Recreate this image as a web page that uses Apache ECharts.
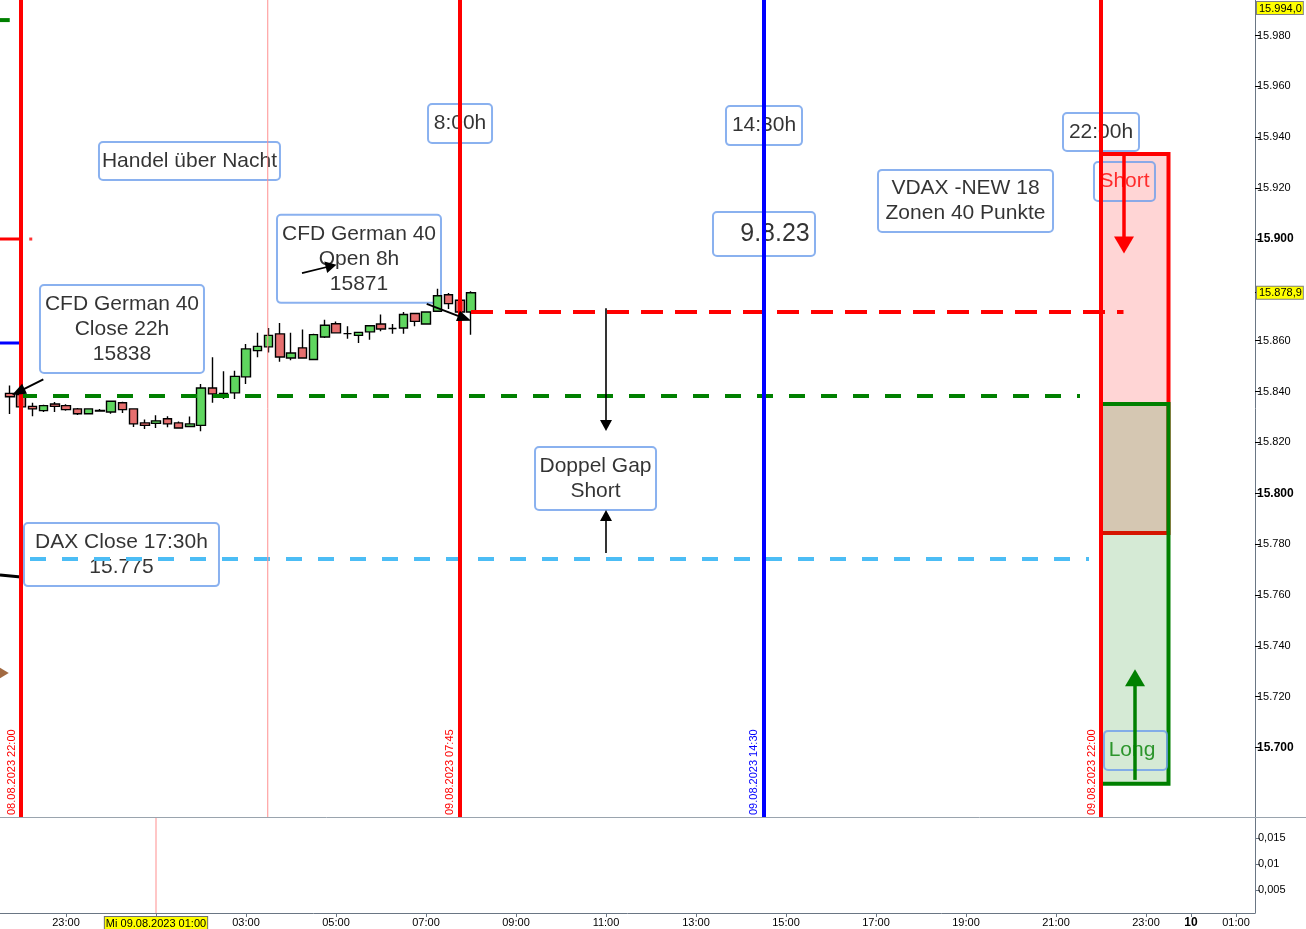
<!DOCTYPE html>
<html>
<head>
<meta charset="utf-8">
<title>CFD German 40 – Doppel Gap</title>
<script src="https://cdn.jsdelivr.net/npm/echarts@6.0.0/dist/echarts.min.js"></script>
<style>
html,body{margin:0;padding:0;background:#fff;}
#chart{width:1306px;height:929px;}
</style>
</head>
<body>
<div id="chart"></div>
<script>
// ================= DATA =================
// 15-minute candles, CFD German 40 (times as "DD.MM HH:MM", August 2023)
const CANDLE_TIMES = [
  '08.08 21:45','08.08 22:00','08.08 22:15','08.08 22:30','08.08 22:45',
  '08.08 23:00','08.08 23:15','08.08 23:30','08.08 23:45',
  '09.08 00:00','09.08 00:15','09.08 00:30','09.08 00:45',
  '09.08 01:00','09.08 01:15','09.08 01:30','09.08 01:45',
  '09.08 02:00','09.08 02:15','09.08 02:30','09.08 02:45',
  '09.08 03:00','09.08 03:15','09.08 03:30','09.08 03:45',
  '09.08 04:00','09.08 04:15','09.08 04:30','09.08 04:45',
  '09.08 05:00','09.08 05:15','09.08 05:30','09.08 05:45',
  '09.08 06:00','09.08 06:15','09.08 06:30','09.08 06:45',
  '09.08 07:00','09.08 07:15','09.08 07:30','09.08 07:45',
  '09.08 08:00'
];
const OPEN  = [15839.3,15838.8,15834.2,15832.5,15835.1,15834.5,15833.2,15831.3,15832.4,15832.0,15835.6,15833.2,15827.7,15827.5,15829.3,15827.7,15826.3,15826.7,15841.4,15838.8,15839.5,15845.8,15856.1,15857.6,15862.7,15853.2,15857.2,15852.6,15861.5,15866.7,15862.8,15862.1,15863.5,15866.6,15864.8,15865.0,15870.7,15866.6,15871.6,15878.1,15875.9,15871.3];
const HIGH  = [15842.4,15840.0,15835.6,15834.8,15835.9,15835.0,15833.6,15833.5,15833.2,15836.5,15836.0,15833.5,15829.0,15830.7,15830.3,15828.2,15830.2,15843.0,15853.5,15848.0,15848.2,15858.7,15863.1,15865.0,15867.0,15863.1,15864.4,15862.8,15868.3,15867.6,15865.7,15863.3,15866.0,15870.3,15866.6,15871.3,15870.9,15871.6,15880.4,15878.8,15876.5,15879.5];
const LOW   = [15831.2,15832.8,15830.3,15832.0,15832.0,15832.5,15830.8,15831.0,15832.1,15831.3,15831.6,15826.1,15825.3,15825.7,15826.0,15825.4,15826.1,15824.4,15835.6,15837.1,15837.1,15843.0,15853.5,15855.4,15851.7,15852.3,15853.0,15852.3,15861.1,15863.0,15860.8,15859.1,15860.4,15863.7,15862.8,15862.8,15865.7,15866.3,15871.3,15872.5,15870.5,15862.4];
const CLOSE = [15838.0,15834.0,15833.2,15834.5,15834.2,15832.9,15831.3,15833.2,15832.6,15836.2,15832.9,15827.3,15826.7,15828.5,15827.3,15825.7,15827.3,15841.4,15839.1,15839.3,15846.0,15856.8,15857.8,15862.1,15853.6,15855.2,15853.2,15862.4,15866.1,15863.1,15862.8,15863.3,15865.9,15864.6,15864.8,15870.3,15867.6,15871.3,15877.7,15874.6,15871.3,15878.9];

// visible window (hours since 08.08.2023 00:00) and price range
const X_MIN = 21.5333;           // 08.08 21:32
const X_MAX = 49.4222;           // 10.08 01:25
const Y_MIN = 15672.71;
const Y_MAX = 15994.0;
const LOWER_MIN = 0.0006, LOWER_MAX = 0.019;

// axis ticks
const PRICE_TICKS = [15700,15720,15740,15760,15780,15800,15820,15840,15860,15880,15900,15920,15940,15960,15980];
const LOWER_TICKS = [0.005, 0.01, 0.015];
const TIME_TICKS  = ['08.08 23:00','09.08 01:00','09.08 03:00','09.08 05:00','09.08 07:00','09.08 09:00',
                     '09.08 11:00','09.08 13:00','09.08 15:00','09.08 17:00','09.08 19:00','09.08 21:00',
                     '09.08 23:00','10.08 00:00','10.08 01:00'];
const CROSSHAIR_LOWER = '09.08 01:00';
const CROSSHAIR_LOWER_TEXT = 'Mi 09.08.2023 01:00';
const CROSSHAIR_MAIN = '09.08 03:29';

// vertical event lines
const EVENT_TIMES  = ['08.08 22:00', '09.08 07:45', '09.08 14:30', '09.08 22:00'];
const EVENT_COLORS = ['red', 'red', 'blue', 'red'];

// horizontal levels
const OPEN_8H   = 15871.3;  // CFD German 40 Open 8h
const CLOSE_22H = 15838.3;  // CFD German 40 Close 22h
const DAX_CLOSE = 15774.2;  // DAX Close 17:30h
const OPEN_8H_SPAN   = ['09.08 08:00', '09.08 22:30'];
const CLOSE_22H_SPAN = ['08.08 22:00', '09.08 21:32'];
const DAX_CLOSE_SPAN = ['08.08 22:12', '09.08 21:44'];

// older drawings cut at the left edge
const STUB_GREEN = 15986.1, STUB_RED = 15900.0, STUB_BLUE = 15859.1;
const STUB_BLACK = [15767.9, 15767.1];
const STUB_BROWN_MARK = 15729.3;

// VDAX zones (22:00 – 23:30)
const ZONE_SPAN  = ['09.08 22:00', '09.08 23:30'];
const SHORT_ZONE = [15784.4, 15933.4];
const LONG_ZONE  = [15685.8, 15835.1];

// arrows: [from, to] in [hour, price]
const ARROWS = [
  { kind: 'black', from: [22.496, 15844.8], to: [21.940, 15839.9] },
  { kind: 'thin',  from: [28.244, 15886.6], to: [28.891, 15889.4] },
  { kind: 'black', from: [31.016, 15874.5], to: [31.856, 15868.8] },
  { kind: 'thin',  from: [35.000, 15872.8], to: [35.000, 15826.7] },
  { kind: 'thin',  from: [35.000, 15776.5], to: [35.000, 15791.3] },
  { kind: 'red',   from: [46.511, 15933.4], to: [46.511, 15897.7] },
  { kind: 'green', from: [46.756, 15687.3], to: [46.756, 15727.5] }
];

// text notes anchored at [hour, price]
const NOTES = [
  { text: 'Handel über Nacht', at: [25.744, 15930.7] },
  { text: '8:00h', at: [31.756, 15945.4] },
  { text: '14:30h', at: [38.511, 15944.6] },
  { text: '22:00h', at: [46.000, 15942.1] },
  { text: 'VDAX -NEW 18\nZonen 40 Punkte', at: [42.989, 15915.0] },
  { text: '9.8.23', at: [38.511, 15902.0] },
  { text: 'CFD German 40\nOpen 8h\n15871', at: [29.511, 15892.2] },
  { text: 'CFD German 40\nClose 22h\n15838', at: [24.244, 15864.6] },
  { text: 'Doppel Gap\nShort', at: [34.767, 15805.8] },
  { text: 'DAX Close 17:30h\n15.775', at: [24.233, 15775.9] },
  { text: 'Short', at: [46.522, 15922.6] },
  { text: 'Long', at: [46.767, 15698.9] }
];

// ================= HELPERS / STYLE =================
function H(s) {
  const [d, hm] = s.split(' ');
  const day = +d.split('.')[0];
  const [hh, mm] = hm.split(':');
  return (day - 8) * 24 + (+hh) + (+mm) / 60;
}
function fmtDec(v) {
  const s = v.toFixed(1);
  const [i, d] = s.split('.');
  return i.replace(/\B(?=(\d{3})+(?!\d))/g, '.') + ',' + d;
}
function eventLabel(t) {
  const [d, hm] = t.split(' ');
  return d + '.2023 ' + hm;
}
const FONT = 'Liberation Sans, Arial, sans-serif';
const COLORS = { red: '#ff0000', blue: '#0000ff', green: '#008000', black: '#000000', thin: '#000000' };
const LAST = CLOSE[CLOSE.length - 1];

const NOTE_LAYOUT = [
  { width: 179, padding: [6.5, 1] },
  { width: 62, padding: [7, 1] },
  { width: 74, padding: [7, 1] },
  { width: 74, padding: [6.5, 1] },
  { width: 173, padding: [6, 1] },
  { width: 70, padding: [7, 5, 7, 27], fontSize: 25, lineHeight: 30 },
  { width: 162, padding: [6.5, 1] },
  { width: 162, padding: [6.5, 1] },
  { width: 119, padding: [6.5, 1] },
  { width: 193, padding: [6.5, 1] },
  { width: 59, padding: [7, 1], color: '#ff0000' },
  { width: 56, padding: [7, 7, 7, 0], color: '#008000' }
];
const ARROW_STYLE = {
  black: { width: 2, head: [11, 14] },
  thin:  { width: 1.6, head: [12, 11] },
  red:   { width: 3.5, head: [20, 17] },
  green: { width: 3.5, head: [20, 17] }
};

// ================= SERIES =================
const candleData = CANDLE_TIMES.map((t, i) => [H(t), OPEN[i], CLOSE[i], LOW[i], HIGH[i]]);
const priceLabelValues = PRICE_TICKS.filter(v => Math.abs(v - LAST) > 6).concat([LAST, Y_MAX]);
const priceTickValues = PRICE_TICKS.filter(v => Math.abs(v - LAST) > 6).concat([LAST]);

function levelLine(value, span, color, width, dash) {
  return {
    type: 'line', xAxisIndex: 0, yAxisIndex: 0, z: 4, silent: true, symbol: 'none',
    data: [[H(span[0]), value], [H(span[1]), value]],
    lineStyle: { color: color, width: width, type: dash || 'solid', cap: 'butt' }
  };
}
function stubLine(from, to, values, color, width) {
  return {
    type: 'line', xAxisIndex: 0, yAxisIndex: 0, z: 4, silent: true, symbol: 'none',
    data: [[from, values[0]], [to, values[1]]],
    lineStyle: { color: color, width: width, cap: 'butt' }
  };
}

const series = [
  // text notes (below everything else)
  {
    type: 'scatter', xAxisIndex: 0, yAxisIndex: 0, z: 1, silent: true, symbolSize: 1,
    itemStyle: { color: 'rgba(0,0,0,0)' },
    label: {
      show: true, position: 'inside', formatter: '{b}', fontFamily: FONT, fontSize: 21,
      lineHeight: 25, color: '#000', borderColor: '#6d9eeb', borderWidth: 1, borderRadius: 4,
      backgroundColor: 'transparent'
    },
    data: NOTES.map((n, i) => ({ name: n.text, value: n.at, label: Object.assign({ color: '#000' }, NOTE_LAYOUT[i]) }))
  },
  // VDAX zones
  {
    type: 'line', xAxisIndex: 0, yAxisIndex: 0, z: 2, silent: true, data: [],
    markArea: {
      silent: true, label: { show: false },
      data: [
        [{ coord: [H(ZONE_SPAN[0]), SHORT_ZONE[1]], itemStyle: { color: 'rgba(255,0,0,0.165)', borderColor: '#ff0000', borderWidth: 4 } },
         { coord: [H(ZONE_SPAN[1]), SHORT_ZONE[0]] }],
        [{ coord: [H(ZONE_SPAN[0]), LONG_ZONE[1]], itemStyle: { color: 'rgba(0,128,0,0.165)', borderColor: '#008000', borderWidth: 4 } },
         { coord: [H(ZONE_SPAN[1]), LONG_ZONE[0]] }]
      ]
    }
  },
  // candles
  {
    type: 'candlestick', xAxisIndex: 0, yAxisIndex: 0, z: 3, silent: true,
    data: candleData, encode: { x: 0, y: [1, 2, 3, 4] },
    barWidth: 9,
    itemStyle: {
      color: '#5fd65f', color0: '#e66f6f', borderColor: '#000', borderColor0: '#000',
      borderColorDoji: '#000', borderWidth: 1.4
    }
  },
  // horizontal levels
  levelLine(OPEN_8H, OPEN_8H_SPAN, '#ff0000', 4, [22, 12]),
  levelLine(CLOSE_22H, CLOSE_22H_SPAN, '#008000', 4, [16, 16]),
  levelLine(DAX_CLOSE, DAX_CLOSE_SPAN, '#4cbdf5', 4, [16, 16]),
  // stubs of earlier drawings at the left edge
  stubLine(X_MIN, H('08.08 21:45'), [STUB_GREEN, STUB_GREEN], '#008000', 4),
  stubLine(X_MIN, H('08.08 22:00'), [STUB_RED, STUB_RED], '#ff0000', 3),
  stubLine(X_MIN, H('08.08 22:00'), [STUB_BLUE, STUB_BLUE], '#0000ff', 3),
  stubLine(X_MIN, H('08.08 22:00'), STUB_BLACK, '#000000', 3),
  {
    type: 'scatter', xAxisIndex: 0, yAxisIndex: 0, z: 4, silent: true,
    data: [
      { value: [H('08.08 21:37'), STUB_BROWN_MARK], symbol: 'triangle', symbolRotate: -90, symbolSize: [12, 10], itemStyle: { color: '#8b4513' } },
      { value: [H('08.08 22:13'), STUB_RED], symbol: 'rect', symbolSize: [3, 3], itemStyle: { color: '#ff0000' } }
    ]
  },
  // crosshair line in the price panel
  {
    type: 'line', xAxisIndex: 0, yAxisIndex: 0, z: 4, silent: true, symbol: 'none',
    data: [[H(CROSSHAIR_MAIN), Y_MIN], [H(CROSSHAIR_MAIN), Y_MAX]],
    lineStyle: { color: '#ff8f8f', width: 1 }
  },
  // vertical event lines
  {
    type: 'line', xAxisIndex: 0, yAxisIndex: 0, z: 5, silent: true, data: [],
    markLine: {
      silent: true, symbol: ['none', 'none'], animation: false,
      data: EVENT_TIMES.map((t, i) => ({
        xAxis: H(t),
        lineStyle: { color: COLORS[EVENT_COLORS[i]], width: 4, type: 'solid' },
        label: {
          show: true, position: 'insideStartTop', formatter: eventLabel(t),
          color: COLORS[EVENT_COLORS[i]], fontFamily: FONT, fontSize: 11, distance: [2, 4]
        }
      }))
    }
  },
  // arrows
  {
    type: 'line', xAxisIndex: 0, yAxisIndex: 0, z: 6, silent: true, data: [],
    markLine: {
      silent: true, animation: false, symbol: ['none', 'triangle'],
      label: { show: false },
      data: ARROWS.map(a => [
        { coord: a.from, symbol: 'none', lineStyle: { color: COLORS[a.kind], width: ARROW_STYLE[a.kind].width, type: 'solid' } },
        { coord: a.to, symbol: 'triangle', symbolSize: ARROW_STYLE[a.kind].head }
      ])
    }
  },
  // lower panel crosshair
  {
    type: 'line', xAxisIndex: 1, yAxisIndex: 1, z: 5, silent: true, symbol: 'none',
    data: [[H(CROSSHAIR_LOWER), LOWER_MIN], [H(CROSSHAIR_LOWER), LOWER_MAX]],
    lineStyle: { color: '#ff8f8f', width: 1 }
  }
];

// ================= CHART =================
const AXIS_COLOR = '#6a7684';
const chart = echarts.init(document.getElementById('chart'), null, { renderer: 'canvas' });
chart.setOption({
  animation: false,
  backgroundColor: '#ffffff',
  textStyle: { fontFamily: FONT },
  grid: [
    { left: 0, top: 0, width: 1255, height: 817, outerBoundsMode: 'none', containLabel: false },
    { left: 0, top: 817, width: 1255, height: 96, outerBoundsMode: 'none', containLabel: false }
  ],
  xAxis: [
    { gridIndex: 0, type: 'value', min: X_MIN, max: X_MAX,
      axisLine: { show: false }, axisTick: { show: false }, axisLabel: { show: false }, splitLine: { show: false } },
    { gridIndex: 1, type: 'value', min: X_MIN, max: X_MAX,
      axisLine: { show: true, lineStyle: { color: AXIS_COLOR } },
      axisTick: { show: true, length: 4, lineStyle: { color: AXIS_COLOR }, customValues: TIME_TICKS.map(H) },
      axisLabel: {
        show: true, customValues: TIME_TICKS.map(H), margin: 4, fontSize: 11, color: '#000', fontFamily: FONT,
        formatter: function (v) {
          if (Math.abs(v - H(CROSSHAIR_LOWER)) < 1e-6) return '{cross|' + CROSSHAIR_LOWER_TEXT + '}';
          const hh = Math.round(((v % 24) + 24) % 24);
          if (hh === 0) return '{day|' + (8 + Math.round(v / 24)) + '}';
          return String(hh).padStart(2, '0') + ':00';
        },
        rich: {
          cross: { backgroundColor: '#ffff00', borderColor: '#707070', borderWidth: 1, padding: [1, 1, 1, 1], fontSize: 11, color: '#000' },
          day: { fontWeight: 'bold', fontSize: 12, color: '#000' }
        }
      },
      splitLine: { show: false } }
  ],
  yAxis: [
    { gridIndex: 0, type: 'value', position: 'right', min: Y_MIN, max: Y_MAX,
      axisLine: { show: true, lineStyle: { color: AXIS_COLOR } },
      axisTick: { show: true, inside: false, length: 5, lineStyle: { color: '#000' }, customValues: priceTickValues },
      splitLine: { show: false },
      axisLabel: {
        show: true, customValues: priceLabelValues, margin: 2, fontSize: 11, color: '#000', fontFamily: FONT,
        showMinLabel: true, showMaxLabel: true,
        formatter: function (v) {
          if (Math.abs(v - Y_MAX) < 1e-6) return '{gap| }\n{top|' + fmtDec(v) + '}';
          if (Math.abs(v - LAST) < 1e-6) return '{last|' + fmtDec(v) + '}';
          const s = (v / 1000).toFixed(3);
          return Math.round(v) % 100 === 0 ? '{b|' + s + '}' : s;
        },
        rich: {
          b: { fontWeight: 'bold', fontSize: 12, color: '#000' },
          last: { backgroundColor: '#ffff00', borderColor: '#808080', borderWidth: 1, padding: [1, 1, 0, 2], fontSize: 11, color: '#000' },
          top: { backgroundColor: '#ffff00', borderColor: '#808080', borderWidth: 1, padding: [1, 1, 0, 2], fontSize: 11, color: '#000', lineHeight: 15 },
          gap: { fontSize: 11, lineHeight: 16 }
        }
      } },
    { gridIndex: 1, type: 'value', position: 'right', min: LOWER_MIN, max: LOWER_MAX,
      axisLine: { show: true, lineStyle: { color: AXIS_COLOR } },
      axisTick: { show: true, length: 5, lineStyle: { color: AXIS_COLOR }, customValues: LOWER_TICKS },
      splitLine: { show: false },
      axisLabel: {
        show: true, customValues: LOWER_TICKS, margin: 3, fontSize: 11, color: '#000', fontFamily: FONT,
        formatter: v => String(v).replace('.', ',')
      } }
  ],
  graphic: [
    { type: 'line', silent: true, z: 10, shape: { x1: 0, y1: 817.5, x2: 1306, y2: 817.5 }, style: { stroke: '#9aa4ae', lineWidth: 1 } }
  ],
  series: series
});
</script>
</body>
</html>
